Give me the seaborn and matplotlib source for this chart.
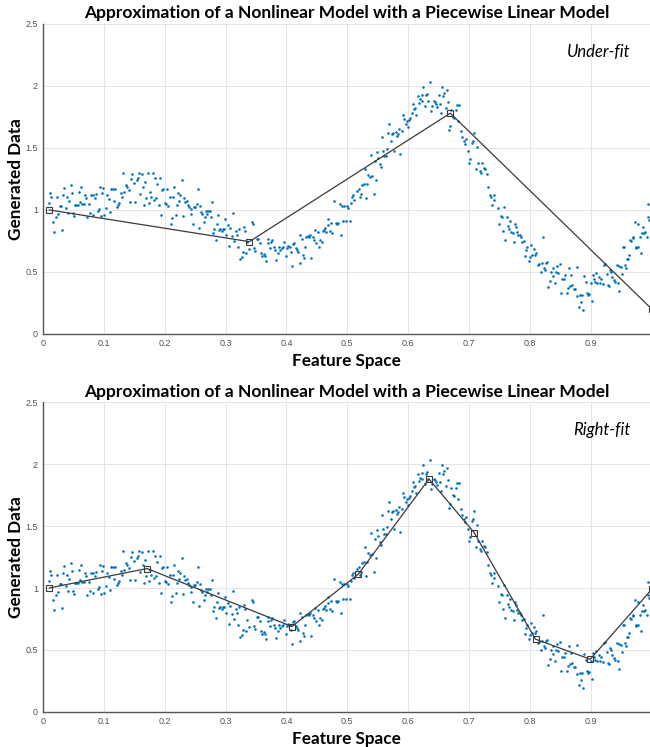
import numpy as np
import matplotlib
matplotlib.use('Agg')
import matplotlib.pyplot as plt
import seaborn as sns

# ── Data ──────────────────────────────────────────────────────────────────────

X_DATA = [
    0.010, 0.0115, 0.013, 0.017, 0.019, 0.021, 0.0235, 0.025, 0.028, 0.0296,
    0.031, 0.033, 0.035, 0.038, 0.040, 0.0416, 0.043, 0.0454, 0.047, 0.049,
    0.051, 0.053, 0.055, 0.057, 0.059, 0.061, 0.063, 0.065, 0.067, 0.0695,
    0.071, 0.073, 0.075, 0.077, 0.079, 0.0816, 0.083, 0.085, 0.087, 0.090,
    0.0914, 0.0936, 0.095, 0.097, 0.099, 0.101, 0.1034, 0.1056, 0.108, 0.110,
    0.112, 0.1144, 0.1166, 0.119, 0.121, 0.123, 0.125, 0.1275, 0.1297, 0.132,
    0.134, 0.136, 0.138, 0.1407, 0.143, 0.1445, 0.1466, 0.149, 0.151, 0.154,
    0.1555, 0.1576, 0.160, 0.162, 0.164, 0.166, 0.168, 0.170, 0.172, 0.174,
    0.176, 0.178, 0.180, 0.182, 0.184, 0.186, 0.188, 0.190, 0.192, 0.194,
    0.196, 0.198, 0.200, 0.202, 0.204, 0.206, 0.208, 0.210, 0.212, 0.214,
    0.216, 0.218, 0.2195, 0.2217, 0.224, 0.2255, 0.228, 0.230, 0.2315, 0.2337,
    0.236, 0.238, 0.240, 0.2425, 0.244, 0.246, 0.248, 0.250, 0.2524, 0.2545,
    0.256, 0.258,
    0.2594, 0.2616, 0.2638, 0.266, 0.2677, 0.2698, 0.2715, 0.2737, 0.2759, 0.278,
    0.2797, 0.2813, 0.2835, 0.2857, 0.2879, 0.2895, 0.2912, 0.2934, 0.2956, 0.2977,
    0.2989, 0.301, 0.3033, 0.3054, 0.3076, 0.3098, 0.312, 0.3141, 0.3164, 0.3186,
    0.3197, 0.3218, 0.324, 0.3262, 0.3284, 0.3306, 0.3317, 0.3339, 0.336, 0.3383,
    0.3426, 0.3448, 0.347, 0.349, 0.3514, 0.3536, 0.3558, 0.358, 0.360, 0.3623,
    0.3645, 0.3667, 0.369, 0.370, 0.3722, 0.3744, 0.3765, 0.3788, 0.381, 0.383,
    0.3853, 0.3875, 0.3897, 0.392, 0.394, 0.396, 0.3985, 0.4007, 0.4028, 0.405,
    0.4072, 0.4083, 0.4105, 0.4127, 0.415, 0.417, 0.419, 0.4215, 0.4225, 0.4248,
    0.427, 0.429, 0.430, 0.4324, 0.4346, 0.4368, 0.439, 0.441, 0.443, 0.4445,
    0.4466, 0.4488, 0.451, 0.4532, 0.4553, 0.4576, 0.4598, 0.462, 0.463, 0.4652,
    0.4675, 0.4685, 0.4707, 0.4729, 0.475, 0.4783, 0.4806, 0.4828, 0.485, 0.4872,
    0.4893, 0.4904, 0.4926, 0.4948, 0.497, 0.4992, 0.5013, 0.5046, 0.5057, 0.508,
    0.510, 0.511,
    0.5166, 0.5189, 0.5205,
    0.5222, 0.5243, 0.5266, 0.5287, 0.5309, 0.532, 0.5342, 0.5364, 0.5386, 0.5407,
    0.543, 0.545, 0.5473, 0.5484, 0.5506, 0.5528, 0.555, 0.5572, 0.5583, 0.5605,
    0.5627, 0.5649, 0.567, 0.5687, 0.5709, 0.5726, 0.5747, 0.5769, 0.5791, 0.5813,
    0.5835, 0.585, 0.5867, 0.589, 0.591, 0.5933, 0.5955, 0.5977, 0.5988, 0.601,
    0.6031, 0.6054, 0.6076, 0.6087, 0.6108, 0.613, 0.6153, 0.6174, 0.6196, 0.6218,
    0.6229, 0.625, 0.6273, 0.6284, 0.6305, 0.6327, 0.635, 0.637, 0.6393, 0.6415,
    0.6437, 0.6458, 0.648, 0.650, 0.6524, 0.6535, 0.6557, 0.6568, 0.659, 0.6612,
    0.6629, 0.6645, 0.6667, 0.6689, 0.671, 0.6732, 0.6754, 0.6776, 0.6798, 0.682,
    0.684, 0.6864, 0.6885, 0.6908, 0.693, 0.695, 0.6974, 0.6995, 0.7017, 0.704,
    0.706, 0.7082, 0.7105, 0.7127, 0.7148, 0.717, 0.719, 0.7214, 0.7236, 0.7258,
    0.729, 0.7312, 0.7345, 0.7356, 0.7378, 0.740, 0.741,
    0.7471, 0.7493, 0.7515, 0.7537, 0.7559, 0.757, 0.7592, 0.7614, 0.7635, 0.7647,
    0.7668, 0.769, 0.7712, 0.7734, 0.7745, 0.7767, 0.7789, 0.781, 0.7833, 0.7854,
    0.7876, 0.7898, 0.792, 0.7931, 0.7953, 0.7975, 0.7997, 0.8018, 0.804, 0.8062,
    0.8084, 0.8106, 0.8128, 0.815, 0.8172, 0.8194, 0.8215, 0.8227, 0.8248, 0.827,
    0.828, 0.8303, 0.8325, 0.8347, 0.8369, 0.838, 0.8402, 0.8424, 0.8445, 0.8467,
    0.8489, 0.851, 0.8533, 0.8555, 0.8577, 0.860, 0.862, 0.8642, 0.8654, 0.8675,
    0.8697, 0.8719, 0.874, 0.8763, 0.8774, 0.8796, 0.8818, 0.884, 0.885, 0.8872,
    0.8894, 0.8916, 0.8938, 0.8949, 0.897, 0.8993, 0.9015, 0.9026, 0.9048, 0.907,
    0.909, 0.910, 0.9125, 0.9146, 0.9168, 0.919, 0.9212, 0.9234, 0.9256, 0.9278,
    0.9289, 0.931, 0.9332, 0.9354, 0.9376, 0.940, 0.942, 0.944, 0.9453, 0.9463,
    0.9486, 0.9507, 0.953, 0.954, 0.956, 0.9573, 0.9595, 0.9606, 0.9628, 0.9639,
    0.966, 0.9683, 0.9693, 0.9716, 0.9737, 0.9748, 0.977, 0.978, 0.9803, 0.9814,
    0.9836, 0.9857, 0.9869, 0.989, 0.9913, 0.9934, 0.9945, 0.9956,
]

Y_DATA = [
    1.059, 1.135, 1.108, 0.90, 0.82, 0.94, 1.102, 0.967, 1.035, 1.03,
    0.839, 1.121, 1.18, 1.013, 1.102, 0.973, 1.075, 1.202, 1.135, 0.978,
    0.952, 1.04, 1.04, 1.043, 1.145, 1.065, 1.183, 1.048, 1.048, 1.121,
    1.094, 0.946, 1.048, 0.978, 1.121, 1.121, 0.96, 1.094, 1.129, 0.992,
    1.01, 1.188, 0.952, 1.14, 1.18, 0.96, 1.013, 1.121, 1.086, 0.986,
    1.172, 1.172, 1.075, 1.172, 1.027, 1.04, 1.054, 1.135, 1.102, 1.296,
    1.148, 1.199, 1.188, 1.161, 1.067, 1.253, 1.288, 1.215, 1.067, 1.242,
    1.255, 1.296, 1.126, 1.29, 1.183, 1.04, 1.228, 1.094, 1.301, 1.059,
    1.143, 1.102, 1.301, 1.08, 1.255, 1.094, 1.207, 1.038, 1.261, 0.96,
    1.161, 1.167, 1.059, 1.048, 1.167, 1.035, 1.108, 0.884, 0.938, 1.102,
    1.183, 0.96, 1.04, 1.14, 1.07, 1.121, 1.242, 0.952, 1.094, 1.067,
    1.07, 1.04, 1.027, 1.005, 0.967, 0.887, 1.027, 1.027, 1.046, 1.167,
    0.852, 1.035,
    0.986, 0.968, 0.906, 0.941, 0.995, 0.970, 0.989, 0.995, 0.941, 1.067,
    0.812, 0.844, 0.758, 0.884, 0.960, 0.839, 0.844, 0.833, 0.844, 0.844,
    0.927, 0.798, 0.879, 0.710, 0.857, 0.793, 0.978, 0.753, 0.833, 0.798,
    0.699, 0.844, 0.602, 0.618, 0.661, 0.860, 0.833, 0.650, 0.744, 0.682,
    0.906, 0.887, 0.690, 0.672, 0.769, 0.769, 0.731, 0.650, 0.629, 0.645,
    0.629, 0.591, 0.737, 0.769, 0.690, 0.745, 0.758, 0.699, 0.677, 0.597,
    0.650, 0.704, 0.677, 0.690, 0.699, 0.739, 0.629, 0.690, 0.710, 0.704,
    0.664, 0.548, 0.726, 0.731, 0.694, 0.677, 0.664, 0.570, 0.798, 0.763,
    0.637, 0.610, 0.699, 0.780, 0.790, 0.780, 0.796, 0.613, 0.785, 0.758,
    0.839, 0.731, 0.825, 0.704, 0.758, 0.745, 0.833, 0.839, 0.852, 0.825,
    0.882, 0.925, 0.833, 0.892, 0.812, 1.073, 0.892, 0.887, 0.898, 1.048,
    0.798, 1.035, 0.914, 1.032, 0.914, 1.032, 1.013, 0.914, 1.059, 1.102,
    1.121, 1.081,
    1.156, 1.172, 1.107,
    1.129, 1.202, 1.210, 1.328, 1.094, 1.210, 1.282, 1.263, 1.444, 1.274,
    1.129, 1.398, 1.242, 1.470, 1.417, 1.371, 1.344, 1.586, 1.478, 1.435,
    1.435, 1.489, 1.624, 1.694, 1.559, 1.613, 1.624, 1.478, 1.632, 1.597,
    1.613, 1.651, 1.452, 1.640, 1.766, 1.731, 1.694, 1.720, 1.672, 1.726,
    1.739, 1.780, 1.855, 1.812, 1.820, 1.766, 1.919, 1.866, 1.892, 1.882,
    1.930, 1.989, 1.839, 1.924, 1.935, 1.882, 2.032, 1.801, 1.839, 1.882,
    1.874, 1.855, 1.833, 1.930, 1.855, 1.785, 1.989, 1.919, 1.946, 1.820,
    1.968, 1.874, 1.645, 1.677, 1.806, 1.753, 1.739, 1.806, 1.847, 1.720,
    1.847, 1.640, 1.586, 1.559, 1.532, 1.570, 1.478, 1.382, 1.409, 1.543,
    1.559, 1.618, 1.328, 1.505, 1.376, 1.317, 1.296, 1.376, 1.336, 1.328,
    1.290, 1.183, 1.121, 1.102, 1.043, 1.121, 1.081,
    1.019, 0.887, 0.952, 0.941, 0.828, 1.021, 0.758, 0.946, 0.871, 0.849,
    0.914, 0.823, 0.812, 0.742, 0.887, 0.860, 0.823, 0.798, 0.798, 0.780,
    0.742, 0.753, 0.629, 0.677, 0.704, 0.591, 0.618, 0.718, 0.637, 0.683,
    0.637, 0.656, 0.559, 0.565, 0.503, 0.575, 0.780, 0.535, 0.516, 0.575,
    0.583, 0.382, 0.425, 0.503, 0.530, 0.468, 0.409, 0.503, 0.548, 0.495,
    0.565, 0.333, 0.446, 0.446, 0.476, 0.333, 0.368, 0.535, 0.387, 0.478,
    0.395, 0.360, 0.360, 0.306, 0.543, 0.220, 0.315, 0.258, 0.315, 0.194,
    0.468, 0.422, 0.333, 0.315, 0.323, 0.409, 0.266, 0.476, 0.441, 0.422,
    0.495, 0.414, 0.457, 0.414, 0.441, 0.403, 0.556, 0.565, 0.484, 0.395,
    0.387, 0.516, 0.503, 0.462, 0.435, 0.422, 0.556, 0.409, 0.349, 0.548,
    0.538, 0.484, 0.699, 0.699, 0.556, 0.530, 0.602, 0.602, 0.637, 0.758,
    0.753, 0.772, 0.785, 0.906, 0.691, 0.699, 0.887, 0.704, 0.785, 0.650,
    0.812, 0.866, 0.812, 0.825, 0.780, 1.046, 0.946, 0.919,
]

# piecewise linear knots
KNOT_X_UNDER = [0.01, 0.339, 0.669, 1.0]
KNOT_Y_UNDER = [1.0, 0.744, 1.78, 0.20]

KNOT_X_RIGHT = [0.01, 0.171, 0.409, 0.518, 0.634, 0.708, 0.809, 0.899, 1.0]
KNOT_Y_RIGHT = [1.0, 1.157, 0.689, 1.112, 1.88, 1.448, 0.587, 0.425, 0.99]

TITLE = 'Approximation of a Nonlinear Model with a Piecewise Linear Model'
PANELS = [('Under-fit', KNOT_X_UNDER, KNOT_Y_UNDER),
          ('Right-fit', KNOT_X_RIGHT, KNOT_Y_RIGHT)]

X_TICKS = [0, 0.1, 0.2, 0.3, 0.4, 0.5, 0.6, 0.7, 0.8, 0.9]
Y_TICKS = [0, 0.5, 1, 1.5, 2, 2.5]
X_TICK_LABELS = ['0', '0.1', '0.2', '0.3', '0.4', '0.5', '0.6', '0.7', '0.8', '0.9']
Y_TICK_LABELS = ['0', '0.5', '1', '1.5', '2', '2.5']

DOT_COLOR  = '#0072BD'
LINE_COLOR = '#3a3a3a'

# ── Style ─────────────────────────────────────────────────────────────────────

sns.set_style('whitegrid', {'grid.color': '#e4e4e4', 'axes.edgecolor': '#555555'})
plt.rcParams['font.family'] = ['Lato', 'DejaVu Sans']

fig = plt.figure(figsize=(6.5, 7.47), dpi=100)
rects = [[0.066, 0.553, 0.934, 0.415],
         [0.066, 0.047, 0.934, 0.4146]]

for rect, (tag, kx, ky) in zip(rects, PANELS):
    ax = fig.add_axes(rect)
    sns.scatterplot(x=X_DATA, y=Y_DATA, ax=ax, color=DOT_COLOR, s=3.5,
                    linewidth=0, marker='o', zorder=3)
    sns.lineplot(x=kx, y=ky, ax=ax, sort=False, color=LINE_COLOR,
                 linewidth=0.9, marker='s', markersize=4,
                 markerfacecolor='none', markeredgecolor=LINE_COLOR,
                 markeredgewidth=0.8, zorder=4)

    ax.set_xlim(0, 0.997)
    ax.set_ylim(0, 2.5)
    ax.set_xticks(X_TICKS)
    ax.set_xticklabels(X_TICK_LABELS)
    ax.set_yticks(Y_TICKS)
    ax.set_yticklabels(Y_TICK_LABELS)
    ax.tick_params(direction='in', length=4, width=0.8, colors='#555555',
                   labelsize=6.5, labelcolor='#505050')
    for lab in ax.get_xticklabels() + ax.get_yticklabels():
        lab.set_family('Liberation Sans')
    ax.grid(True, linewidth=0.7)
    for side in ['top', 'right']:
        ax.spines[side].set_visible(False)
    for side in ['left', 'bottom']:
        ax.spines[side].set_linewidth(1.0)

    ax.set_title(TITLE, fontsize=12.5, fontweight='bold', pad=4, color='black')
    ax.set_xlabel('Feature Space', fontsize=12.3, fontweight='bold',
                  labelpad=4, color='black')
    ax.set_ylabel('Generated Data', fontsize=12.3, fontweight='bold',
                  labelpad=1, color='black')
    ax.text(0.967, 0.91, tag, transform=ax.transAxes, ha='right', va='center',
            fontsize=12, style='italic', color='black')

plt.savefig('out.png', dpi=100)
plt.close()
